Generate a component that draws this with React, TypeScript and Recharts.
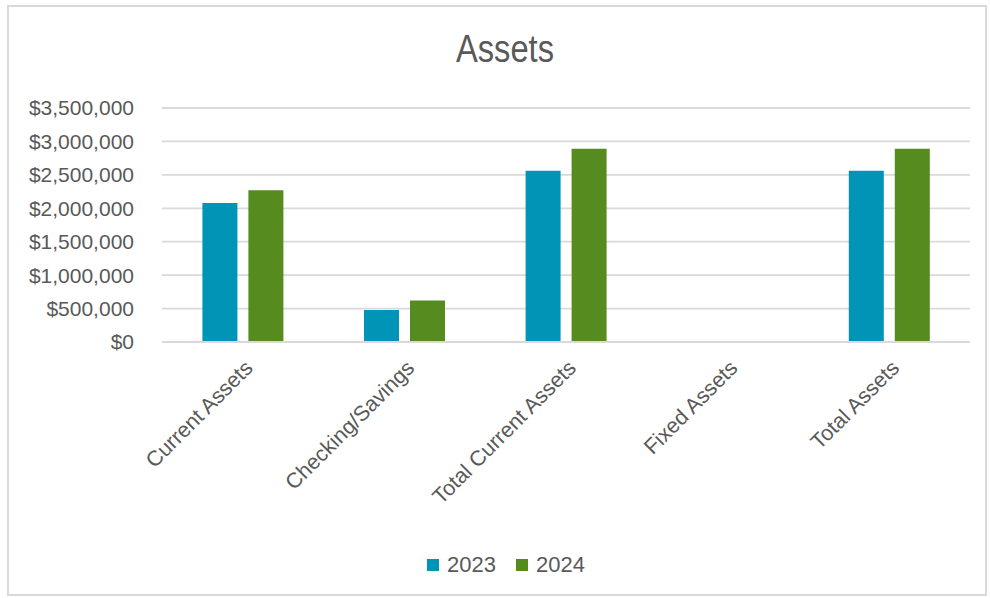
import React from 'react';
import { BarChart, Bar, XAxis, YAxis, CartesianGrid, Legend } from 'recharts';

const categories = ['Current Assets', 'Checking/Savings', 'Total Current Assets', 'Fixed Assets', 'Total Assets'];
const values2023 = [2080000, 480000, 2560000, 0, 2560000];
const values2024 = [2270000, 620000, 2890000, 0, 2890000];
const yTicks = [0, 500000, 1000000, 1500000, 2000000, 2500000, 3000000, 3500000];

const data = categories.map((name, i) => ({
  name,
  y2023: values2023[i],
  y2024: values2024[i],
}));

const FONT = '"Liberation Sans", Arial, sans-serif';
const TEXT = '#595959';

const formatMoney = (v: number) => '$' + v.toLocaleString('en-US');

const AngledTick = (props: any) => {
  const { x, y, payload } = props;
  return (
    <g transform={`translate(${x + 6},${y + 14})`}>
      <text
        textAnchor="end"
        transform="rotate(-45)"
        fill={TEXT}
        fontSize={21.5}
        fontFamily={FONT}
        dy="0.35em"
      >
        {payload.value}
      </text>
    </g>
  );
};

const LegendContent = (props: any) => {
  const { payload } = props;
  return (
    <div style={{ display: 'flex', justifyContent: 'center', fontFamily: FONT, fontSize: 22, color: TEXT, paddingLeft: 30 }}>
      {payload.map((entry: any) => (
        <div key={entry.value} style={{ display: 'flex', alignItems: 'center', margin: '0 10px' }}>
          <span style={{ width: 12, height: 12, background: entry.color, marginRight: 8, display: 'inline-block' }} />
          <span>{entry.value}</span>
        </div>
      ))}
    </div>
  );
};

export default function App() {
  return (
    <div style={{ position: 'absolute', left: 0, top: 0, width: 990, height: 598, background: '#fff' }}>
      <div
        style={{
          position: 'absolute',
          left: 7,
          top: 5,
          width: 980,
          height: 591,
          border: '2px solid #d9d9d9',
          boxSizing: 'border-box',
        }}
      />
      <div
        style={{
          position: 'absolute',
          left: 0,
          width: 1010,
          top: 28,
          textAlign: 'center',
          fontFamily: FONT,
          fontSize: 38,
          color: TEXT,
          transform: 'scaleX(0.86)',
          transformOrigin: '505px 0',
        }}
      >
        Assets
      </div>
      <BarChart
        width={990}
        height={598}
        data={data}
        margin={{ top: 108, right: 20, bottom: 6, left: 12 }}
        barGap={11}
        barCategoryGap="25%"
      >
        <CartesianGrid vertical={false} stroke="#d9d9d9" strokeWidth={1.8} />
        <XAxis
          dataKey="name"
          height={210}
          interval={0}
          tickLine={false}
          axisLine={{ stroke: '#d9d9d9', strokeWidth: 1.8 }}
          tick={<AngledTick />}
        />
        <YAxis
          width={150}
          domain={[0, 3500000]}
          ticks={yTicks}
          tickFormatter={formatMoney}
          axisLine={false}
          tickLine={false}
          tickMargin={22}
          tick={{ fill: TEXT, fontSize: 21, fontFamily: FONT }}
        />
        <Legend verticalAlign="bottom" height={40} content={<LegendContent />} />
        <Bar dataKey="y2023" name="2023" fill="#0095B7" isAnimationActive={false} />
        <Bar dataKey="y2024" name="2024" fill="#558B1F" isAnimationActive={false} />
      </BarChart>
    </div>
  );
}
